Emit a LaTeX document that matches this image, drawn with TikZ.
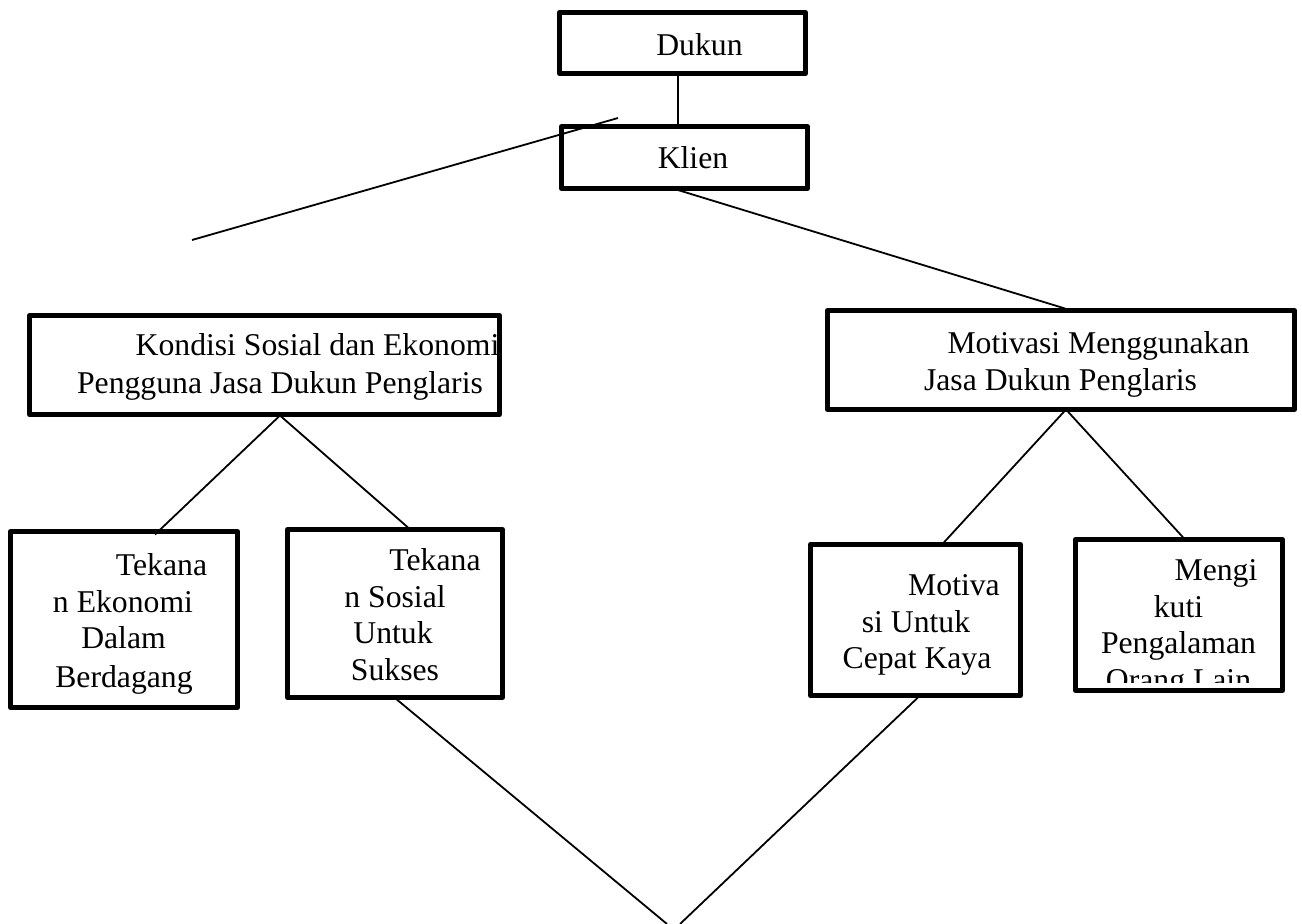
\documentclass[tikz,border=0pt]{standalone}
\usepackage{fontspec}
\setmainfont{Liberation Serif}
\usetikzlibrary{calc}
\begin{document}
\begin{tikzpicture}[x=1pt,y=-1pt,
  box/.style={draw, line width=5pt, line join=round, rectangle, outer sep=0pt, inner sep=0pt},
  conn/.style={line width=1.8pt},
  txt/.style={anchor=base, inner sep=0pt, font=\fontsize{31.7}{37.5}\selectfont}]
\useasboundingbox (0,0) rectangle (1302,924);

% boxes
\node[box, minimum width=246pt, minimum height=61pt] (dukun) at (682.5,43) {};
\node[box, minimum width=246pt, minimum height=62pt] (klien) at (684.5,157.5) {};
\node[box, minimum width=470pt, minimum height=99pt] (kondisi) at (264.5,365) {};
\node[box, minimum width=467pt, minimum height=99pt] (motivasi) at (1061,360) {};
\node[box, minimum width=227pt, minimum height=176pt] (tekek) at (124,619.5) {};
\node[box, minimum width=215pt, minimum height=168pt] (teksos) at (395,613.5) {};
\node[box, minimum width=210pt, minimum height=151pt] (motiva) at (915.5,620) {};
\node[box, minimum width=207pt, minimum height=151pt] (mengi) at (1179,615) {};

% texts
\node[txt] (tdukun) at (699.5,55) {Dukun};
\node[txt] (tklien) at (693,168) {Klien};
\node[txt] (tkond1) at (317.5,355) {Kondisi Sosial dan Ekonomi};
\node[txt] (tkond2) at (280,393) {Pengguna Jasa Dukun Penglaris};
\node[txt] (tmot1) at (1098.5,353) {Motivasi Menggunakan};
\node[txt] (tmot2) at (1060.5,390) {Jasa Dukun Penglaris};
\node[txt] (tek1) at (161.5,575) {Tekana};
\node[txt] (tek2) at (123,612) {n Ekonomi};
\node[txt] (tek3) at (123.5,648) {Dalam};
\node[txt] (tek4) at (124,687) {Berdagang};
\node[txt] (tso1) at (435,570) {Tekana};
\node[txt] (tso2) at (395,607) {n Sosial};
\node[txt] (tso3) at (393,643) {Untuk};
\node[txt] (tso4) at (395,680) {Sukses};
\node[txt] (tmv1) at (954,595) {Motiva};
\node[txt] (tmv2) at (916,632) {si Untuk};
\node[txt] (tmv3) at (917,668) {Cepat Kaya};
\node[txt] (tmg1) at (1216,580) {Mengi};
\node[txt] (tmg2) at (1178.5,617) {kuti};
\node[txt] (tmg3) at (1178.5,653) {Pengalaman};
\begin{scope}
  \clip (1078,640) rectangle (1280,682);
  \node[txt] (tmg4) at (1178.5,690) {Orang Lain};
\end{scope}

% connectors
\coordinate (freeend) at (192,240);
\coordinate (apexl) at (667,924);
\coordinate (apexr) at (680,924);
\draw[conn] ($(dukun.south)+(-4.5,-2.5)$) -- ($(klien.north)+(-6.5,0)$);
\draw[conn] ($(klien.north west)+(56.5,-8.5)$) -- (freeend);
\draw[conn] ($(klien.south)+(-11.5,0)$) -- ($(motivasi.north)+(4,-2)$);
\draw[conn] ($(kondisi.south)+(15.5,1)$) -- ($(tekek.north)+(31,3)$);
\draw[conn] ($(kondisi.south)+(15.5,1)$) -- ($(teksos.north)+(13,-2)$);
\draw[conn] ($(motivasi.south)+(5,0)$) -- ($(motiva.north)+(26.5,0)$);
\draw[conn] ($(motivasi.south)+(5,0)$) -- ($(mengi.north)+(6,0)$);
\draw[conn] ($(teksos.south)+(0,0.5)$) -- (apexl);
\draw[conn] ($(motiva.south)+(3.5,1)$) -- (apexr);
\end{tikzpicture}
\end{document}
